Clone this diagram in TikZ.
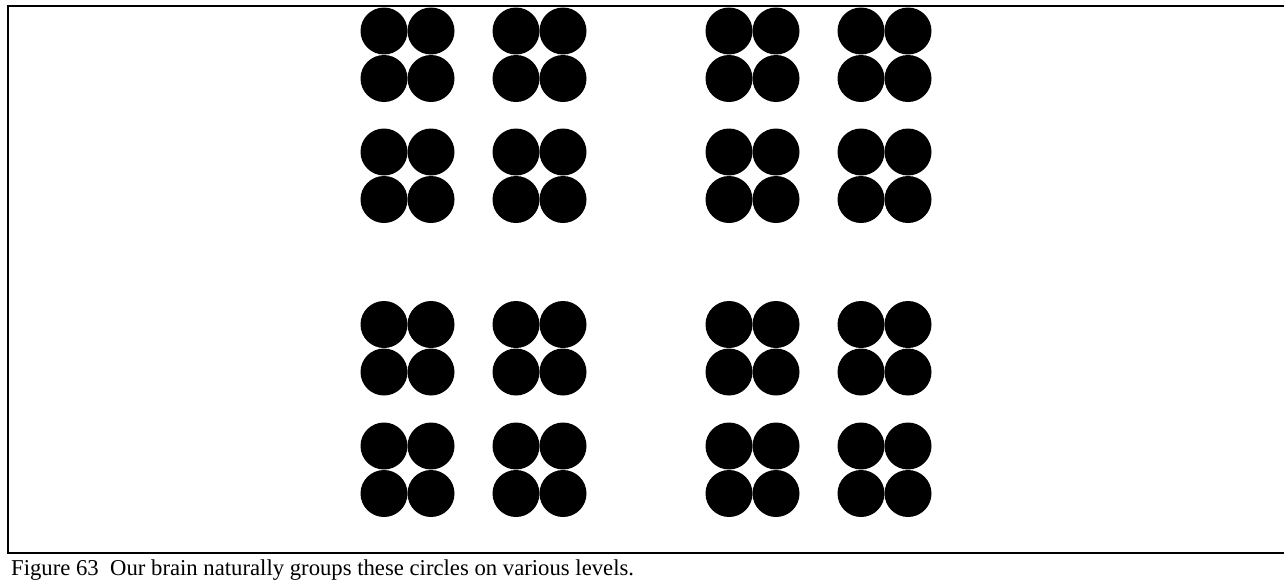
\documentclass[tikz,border=0pt]{standalone}
\usepackage{fontspec}
\setmainfont{Liberation Serif}
\begin{document}
\begin{tikzpicture}[x=1pt,y=-1pt,
  dot/.style={circle,fill=black,draw=none,inner sep=0pt,minimum size=47pt},
  frameline/.style={line width=2.2pt,draw=black},
  captext/.style={anchor=base west,inner sep=0pt,font=\fontsize{22.7}{27}\selectfont}]
\useasboundingbox (0,0) rectangle (1284,582);
\coordinate (tl) at (8,6);
\coordinate (tr) at (1284,6);
\coordinate (bl) at (8,553);
\coordinate (br) at (1284,553);
\draw[frameline] (tr) -- (tl) -- (bl) -- (br);
\foreach \cx [count=\i] in {384,431,516,563,729,776,861,908}{
  \foreach \cy [count=\j] in {31,78.5,152,199.5,324.5,372,446,493.5}{
    \node[dot] (c-\i-\j) at (\cx,\cy) {};
  }
}
\node[captext] (cap) at (11,575) {Figure 63\ \ Our brain naturally groups these circles on various levels.};
\end{tikzpicture}
\end{document}
